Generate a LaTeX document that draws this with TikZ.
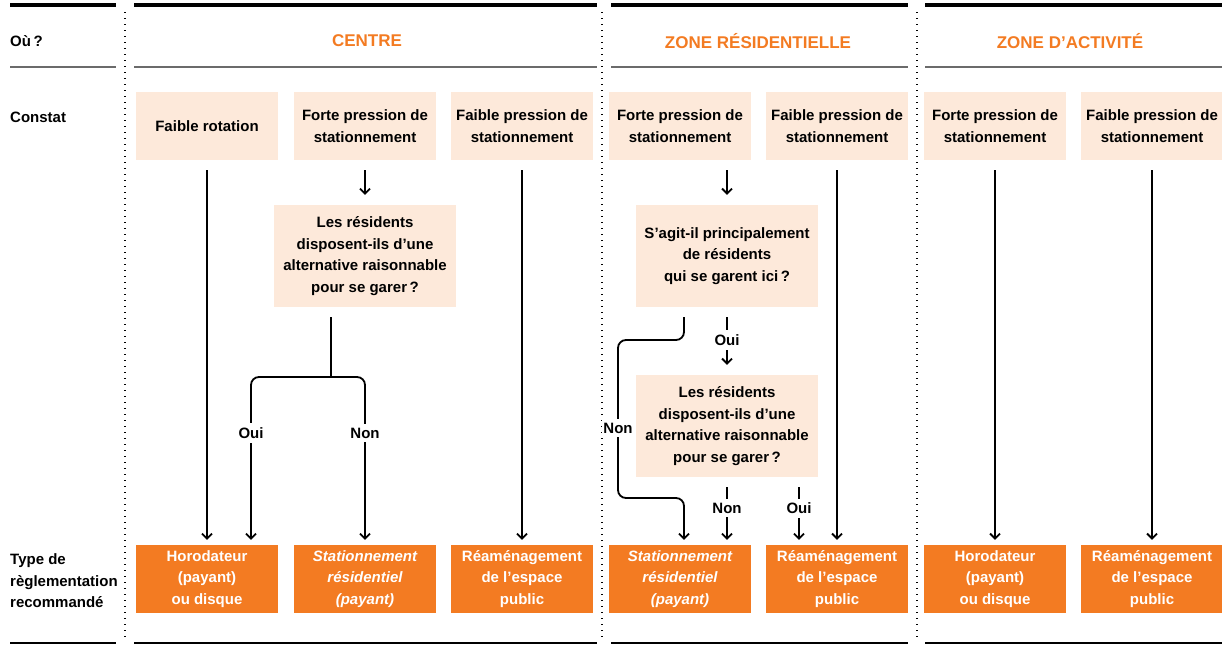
\documentclass[tikz,border=0pt]{standalone}
\usepackage{fontspec}
\setmainfont{Liberation Sans}
\usetikzlibrary{arrows.meta}
\definecolor{peach}{HTML}{FDE9DA}
\definecolor{orng}{HTML}{F37B22}
\definecolor{grayline}{HTML}{6B6B6B}
\begin{document}
\begin{tikzpicture}[x=1pt,y=-1pt,
  every node/.style={font=\fontsize{15}{21.5}\selectfont\bfseries, align=center, inner sep=0pt},
  cbox/.style={fill=peach, minimum width=142pt, minimum height=68pt, text depth=-1.5pt},
  qbox/.style={fill=peach, minimum width=182pt, minimum height=102pt},
  obox/.style={fill=orng, text=white, minimum width=142pt, minimum height=68pt},
  conn/.style={line width=1.8pt, black},
  arr/.style={conn, -{Straight Barb[length=5pt,width=10pt]}},
  lbl/.style={fill=white, inner ysep=4pt, inner xsep=1pt},
  rowlbl/.style={anchor=west, align=left},
  hdr/.style={text=orng, font=\fontsize{17}{21}\selectfont\bfseries},
  toprule/.style={line width=4pt, black},
  midrule/.style={line width=2pt, grayline},
  botrule/.style={line width=2.4pt, black},
  sep/.style={line width=1.3pt, black, dash pattern=on 1.2pt off 4.8pt}
]
\useasboundingbox (0,0) rectangle (1222,645);

% rules
\foreach \a/\b in {10/116,134/597,611/908,925/1222}{
  \draw[toprule] (\a,5) -- (\b,5);
  \draw[midrule] (\a,67) -- (\b,67);
  \draw[botrule] (\a,643) -- (\b,643);
}
% dotted separators
\foreach \x in {125,602,917}{
  \draw[sep] (\x,12) -- (\x,640);
}

% row labels
\node[rowlbl] (rl1) at (10,41) {Où\,?};
\node[rowlbl] (rl2) at (10,117) {Constat};
\node[rowlbl] (rl3) at (10,581) {Type de\\règlementation\\recommandé};

% headers
\node[hdr] (hc) at (367,41) {CENTRE};
\node[hdr] (hr) at (758,41) {ZONE RÉSIDENTIELLE};
\node[hdr] (ha) at (1070,41) {ZONE D’ACTIVITÉ};

% constat boxes
\node[cbox] (c1) at (207,126) {Faible rotation};
\node[cbox] (c2) at (365,126) {Forte pression de\\stationnement};
\node[cbox] (c3) at (522,126) {Faible pression de\\stationnement};
\node[cbox] (c4) at (680,126) {Forte pression de\\stationnement};
\node[cbox] (c5) at (837,126) {Faible pression de\\stationnement};
\node[cbox] (c6) at (995,126) {Forte pression de\\stationnement};
\node[cbox] (c7) at (1152,126) {Faible pression de\\stationnement};

% question boxes
\node[qbox] (qc) at (365,256) {Les résidents\\disposent-ils d’une\\alternative raisonnable\\pour se garer\,?};
\node[qbox] (qr1) at (727,256) {S’agit-il principalement\\de résidents\\qui se garent ici\,?};
\node[qbox] (qr2) at (727,426) {Les résidents\\disposent-ils d’une\\alternative raisonnable\\pour se garer\,?};

% result boxes
\node[obox] (o1) at (207,579) {Horodateur\\(payant)\\ou disque};
\node[obox] (o2) at (365,579) {\itshape Stationnement\\\itshape résidentiel\\\itshape (payant)};
\node[obox] (o3) at (522,579) {Réaménagement\\de l’espace\\public};
\node[obox] (o4) at (680,579) {\itshape Stationnement\\\itshape résidentiel\\\itshape (payant)};
\node[obox] (o5) at (837,579) {Réaménagement\\de l’espace\\public};
\node[obox] (o6) at (995,579) {Horodateur\\(payant)\\ou disque};
\node[obox] (o7) at (1152,579) {Réaménagement\\de l’espace\\public};

% connectors: centre
\draw[arr] ([yshift=-10pt]c1.south) -- ([yshift=5pt]o1.north);
\draw[arr] ([yshift=-10pt]c2.south) -- ([yshift=10pt]qc.north);
\draw[arr] ([yshift=-10pt]c3.south) -- ([yshift=5pt]o3.north);
\coordinate (bc) at (331,377);
\draw[conn] ([xshift=-34pt,yshift=-10pt]qc.south) -- (bc);
\draw[arr, rounded corners=8pt] (bc) -| ([xshift=44pt,yshift=5pt]o1.north);
\draw[arr, rounded corners=8pt] (bc) -| ([yshift=5pt]o2.north);
\node[lbl] (lo1) at (251,433) {Oui};
\node[lbl] (ln1) at (365,433) {Non};

% connectors: zone residentielle
\draw[arr] ([yshift=-10pt]c4.south -| qr1.south) -- ([yshift=10pt]qr1.north);
\draw[arr, rounded corners=8pt] ([xshift=-43pt,yshift=-10pt]qr1.south) -- (684,340) -- (618,340) -- (618,498) -- (684,498) -- ([xshift=4pt,yshift=5pt]o4.north);
\draw[arr] ([yshift=-10pt]qr1.south) -- ([yshift=10pt]qr2.north);
\draw[arr] ([yshift=-10pt]qr2.south) -- ([xshift=47pt,yshift=5pt]o4.north);
\draw[arr] ([xshift=72pt,yshift=-10pt]qr2.south) -- ([xshift=-38pt,yshift=5pt]o5.north);
\draw[arr] ([yshift=-10pt]c5.south) -- ([yshift=5pt]o5.north);
\node[lbl] (ln2) at (618,428) {Non};
\node[lbl] (lo2) at (727,340) {Oui};
\node[lbl] (ln3) at (727,508) {Non};
\node[lbl] (lo3) at (799,508) {Oui};

% connectors: zone d'activite
\draw[arr] ([yshift=-10pt]c6.south) -- ([yshift=5pt]o6.north);
\draw[arr] ([yshift=-10pt]c7.south) -- ([yshift=5pt]o7.north);
\end{tikzpicture}
\end{document}
